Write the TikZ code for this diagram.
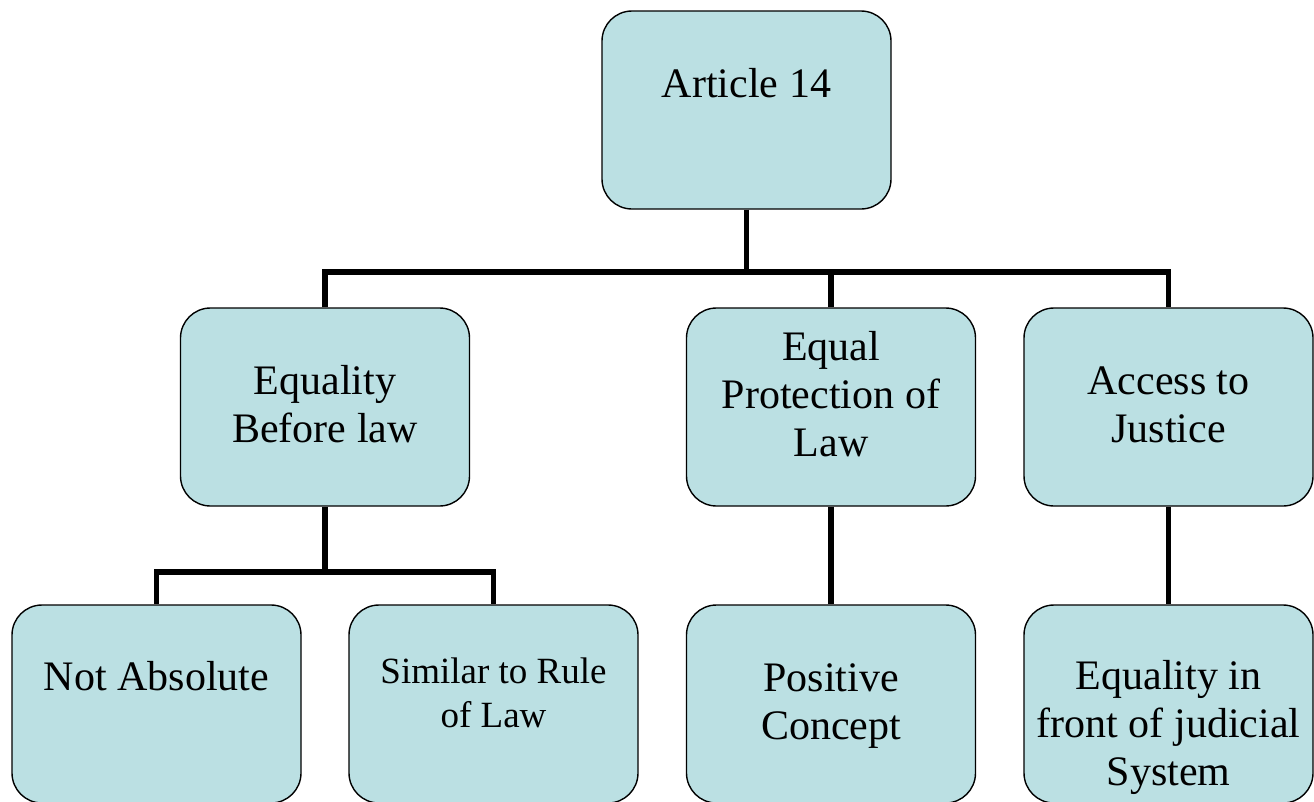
\documentclass[tikz,border=0pt]{standalone}
\usepackage{fontspec}
\setmainfont{Liberation Serif}
\definecolor{boxfill}{RGB}{187,224,227}
\tikzset{
  box/.style={draw=black, line width=1.4pt, fill=boxfill, rounded corners=30pt,
    minimum width=289pt, minimum height=198pt, inner sep=0pt},
  conn/.style={draw=black, line width=5.5pt, line join=miter},
  lbl/.style={align=center, inner sep=0pt, anchor=base, font=\fontsize{42}{48}\selectfont},
  lblsmall/.style={align=center, inner sep=0pt, anchor=base, font=\fontsize{37}{44}\selectfont}
}
\begin{document}
\begin{tikzpicture}[x=1pt,y=-1pt]
\useasboundingbox (0,0) rectangle (1314,801);
% boxes
\node[box] (top) at (746.5,110) {};
\node[box] (A) at (325,407) {};
\node[box] (B) at (831,407) {};
\node[box] (C) at (1168.5,407) {};
\node[box] (D) at (156.5,704) {};
\node[box] (E) at (493.5,704) {};
\node[box] (F) at (831,704) {};
\node[box] (G) at (1168.5,704) {};
% connectors
\coordinate (bar1) at (746.5,272);
\coordinate (bar2) at (325,572);
\draw[conn] (top.south) -- (bar1);
\draw[conn] (A.north) |- (bar1) -| (C.north);
\draw[conn] (B.north) -- (B.north |- bar1);
\draw[conn] (A.south) -- (bar2);
\draw[conn] (D.north) |- (bar2) -| (E.north);
\draw[conn] (B.south) -- (F.north);
\draw[conn] (C.south) -- (G.north);
% texts (base anchor = baseline of last line)
\node[lbl] (ttop) at (746.5,97) {Article 14};
\node[lbl] (tA) at (325,442) {Equality\\Before law};
\node[lbl] (tB) at (831,456) {Equal\\Protection of\\Law};
\node[lbl] (tC) at (1168.5,442) {Access to\\Justice};
\node[lbl] (tD) at (156.5,690) {Not Absolute};
\node[lblsmall] (tE) at (493.5,727) {Similar to Rule\\of Law};
\node[lbl] (tF) at (831,739) {Positive\\Concept};
\node[lbl] (tG) at (1168.5,785) {Equality in\\front of judicial\\System};
\end{tikzpicture}
\end{document}
